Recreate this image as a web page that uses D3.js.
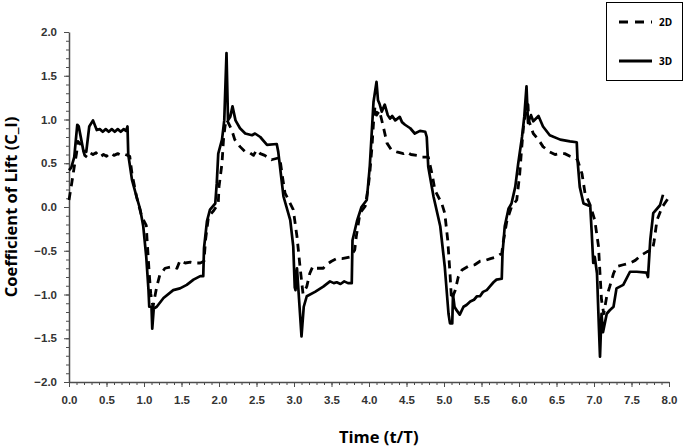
<!DOCTYPE html>
<html>
<head>
<meta charset="utf-8">
<script src="https://cdn.jsdelivr.net/npm/d3@7"></script>
<style>
  body { margin: 0; background: #fff; }
  svg { display: block; font-family: "Open Sans", "Liberation Sans", sans-serif; }
  .axis path, .axis line { stroke: #4d4d4d; }
  .axis text { font-weight: bold; font-size: 11.5px; fill: #333; }
</style>
</head>
<body>
<div id="chart"></div>
<script>
(function(){
  const width = 685, height = 447;
  const margin = { top: 32, right: 16, bottom: 65, left: 69 };

  // 3D series (solid)
  const time3D = [0.00,0.03,0.07,0.11,0.13,0.19,0.23,0.27,0.32,0.37,0.41,0.45,0.49,0.53,0.57,0.61,0.65,0.69,0.73,0.76,0.78,0.79,0.84,0.90,0.95,0.99,1.03,1.06,1.07,1.10,1.11,1.13,1.17,1.26,1.39,1.48,1.57,1.66,1.75,1.79,1.80,1.84,1.88,1.95,1.97,1.99,2.04,2.07,2.10,2.12,2.15,2.18,2.22,2.28,2.35,2.44,2.48,2.55,2.64,2.77,2.79,2.86,2.95,2.99,3.01,3.02,3.04,3.10,3.13,3.17,3.28,3.39,3.48,3.53,3.57,3.62,3.67,3.72,3.77,3.78,3.84,3.90,3.97,4.01,4.06,4.10,4.12,4.14,4.17,4.21,4.25,4.28,4.31,4.35,4.41,4.44,4.48,4.55,4.61,4.68,4.75,4.77,4.79,4.86,4.95,5.01,5.06,5.08,5.11,5.12,5.14,5.16,5.21,5.26,5.30,5.35,5.40,5.44,5.48,5.52,5.57,5.61,5.66,5.70,5.77,5.78,5.81,5.86,5.90,5.95,5.99,6.04,6.07,6.10,6.12,6.16,6.19,6.26,6.32,6.41,6.55,6.68,6.77,6.78,6.81,6.86,6.95,6.97,6.99,7.01,7.04,7.06,7.08,7.10,7.12,7.17,7.21,7.26,7.30,7.39,7.48,7.57,7.70,7.72,7.75,7.79,7.88,7.92];
  const lift3D = [0.42,0.45,0.57,0.94,0.92,0.65,0.63,0.92,0.99,0.88,0.89,0.86,0.89,0.86,0.89,0.86,0.89,0.86,0.89,0.87,0.92,0.60,0.31,0.12,-0.03,-0.22,-0.57,-0.95,-1.14,-1.14,-1.39,-1.16,-1.14,-1.04,-0.95,-0.93,-0.89,-0.83,-0.79,-0.79,-0.47,-0.16,-0.03,0.04,0.27,0.61,0.77,0.99,1.76,0.99,1.03,1.15,0.99,0.90,0.84,0.82,0.84,0.80,0.71,0.72,0.63,0.12,-0.15,-0.45,-0.92,-0.95,-0.70,-1.48,-1.14,-1.02,-0.97,-0.91,-0.85,-0.87,-0.86,-0.88,-0.85,-0.87,-0.87,-0.38,-0.16,0.00,0.08,0.46,1.20,1.43,1.22,1.18,1.09,1.17,1.05,1.01,1.04,0.99,1.03,0.97,0.94,0.90,0.84,0.87,0.86,0.80,0.46,0.12,-0.22,-0.68,-1.22,-1.33,-1.33,-1.00,-1.14,-1.17,-1.23,-1.14,-1.12,-1.08,-1.06,-1.02,-1.02,-0.97,-0.95,-0.91,-0.86,-0.83,-0.82,-0.53,-0.22,-0.02,0.04,0.23,0.50,0.80,1.03,1.38,0.96,1.05,0.98,1.04,0.92,0.82,0.77,0.75,0.74,0.54,0.23,0.04,0.01,-0.30,-0.64,-0.57,-0.76,-1.25,-1.71,-1.22,-1.43,-1.22,-1.18,-1.14,-0.93,-0.89,-0.74,-0.74,-0.75,-0.80,-0.38,-0.07,0.02,0.14];

  // 2D series (dashed)
  const time2D = [0.00,0.04,0.07,0.10,0.12,0.17,0.21,0.24,0.28,0.32,0.36,0.41,0.46,0.50,0.55,0.60,0.65,0.70,0.75,0.81,0.84,0.90,0.97,1.03,1.04,1.07,1.09,1.12,1.17,1.21,1.28,1.39,1.44,1.48,1.55,1.62,1.68,1.75,1.80,1.82,1.86,1.93,1.99,2.00,2.04,2.06,2.08,2.10,2.12,2.17,2.21,2.28,2.35,2.41,2.46,2.50,2.55,2.61,2.70,2.79,2.81,2.84,2.88,2.99,3.04,3.08,3.12,3.17,3.21,3.25,3.28,3.39,3.43,3.50,3.57,3.64,3.75,3.81,3.83,3.88,3.95,3.99,4.01,4.04,4.06,4.08,4.10,4.14,4.19,4.24,4.30,4.37,4.46,4.50,4.56,4.64,4.70,4.79,4.84,4.88,4.97,5.01,5.05,5.08,5.10,5.15,5.19,5.24,5.32,5.41,5.48,5.55,5.62,5.70,5.77,5.79,5.84,5.90,5.97,6.01,6.03,6.06,6.08,6.12,6.13,6.19,6.26,6.32,6.41,6.48,6.55,6.61,6.68,6.75,6.78,6.84,6.88,6.95,7.01,7.06,7.08,7.10,7.13,7.17,7.21,7.26,7.30,7.39,7.48,7.55,7.63,7.71,7.78,7.80,7.84,7.91,7.99];
  const lift2D = [0.08,0.29,0.46,0.61,0.75,0.70,0.59,0.57,0.62,0.60,0.62,0.57,0.60,0.58,0.62,0.59,0.61,0.59,0.60,0.58,0.38,0.12,-0.11,-0.21,-0.36,-0.76,-0.99,-1.14,-0.91,-0.78,-0.70,-0.68,-0.70,-0.61,-0.64,-0.63,-0.64,-0.64,-0.62,-0.38,-0.11,-0.04,0.04,0.23,0.50,0.77,0.92,1.00,0.97,0.88,0.77,0.69,0.63,0.62,0.59,0.65,0.61,0.59,0.54,0.56,0.57,0.38,0.16,-0.03,-0.34,-0.68,-0.99,-0.91,-0.76,-0.68,-0.70,-0.70,-0.66,-0.62,-0.59,-0.59,-0.57,-0.49,-0.34,-0.07,0.01,0.23,0.38,0.69,0.96,1.15,1.05,1.10,0.92,0.73,0.65,0.63,0.61,0.63,0.60,0.59,0.57,0.57,0.38,0.19,0.04,-0.07,-0.38,-0.76,-1.06,-0.95,-0.80,-0.72,-0.68,-0.66,-0.62,-0.61,-0.59,-0.57,-0.53,-0.40,-0.15,0.00,0.08,0.38,0.61,0.92,1.03,1.17,0.99,0.84,0.77,0.69,0.63,0.60,0.61,0.61,0.58,0.56,0.54,0.38,0.16,0.02,-0.15,-0.45,-0.76,-1.06,-1.22,-1.02,-0.91,-0.76,-0.68,-0.66,-0.64,-0.61,-0.55,-0.51,-0.49,-0.40,-0.15,0.00,0.10];

  const xTicks = d3.range(0, 8.01, 0.5);
  const yTicks = d3.range(-2, 2.01, 0.5);
  const legendLabels = ["2D", "3D"];

  const svg = d3.select("#chart").append("svg")
    .attr("width", width).attr("height", height);

  const x = d3.scaleLinear().domain([0, 8]).range([margin.left, width - margin.right]);
  const y = d3.scaleLinear().domain([-2, 2]).range([height - margin.bottom, margin.top]);

  // minor ticks
  svg.append("g").attr("class", "axis")
    .attr("transform", `translate(0,${y(-2)})`)
    .call(d3.axisBottom(x).tickValues(d3.range(0, 8.01, 0.1)).tickSize(3).tickFormat(""))
    .select(".domain").remove();
  svg.append("g").attr("class", "axis")
    .attr("transform", `translate(${x(0)},0)`)
    .call(d3.axisLeft(y).tickValues(d3.range(-2, 2.01, 0.1)).tickSize(3).tickFormat(""))
    .select(".domain").remove();

  // major axes
  svg.append("g").attr("class", "axis")
    .attr("transform", `translate(0,${y(-2)})`)
    .call(d3.axisBottom(x).tickValues(xTicks).tickSize(5).tickSizeOuter(0).tickPadding(9).tickFormat(d3.format(".1f")));
  svg.append("g").attr("class", "axis")
    .attr("transform", `translate(${x(0)},0)`)
    .call(d3.axisLeft(y).tickValues(yTicks).tickSize(5).tickSizeOuter(0).tickPadding(7).tickFormat(d3.format(".1f")));

  svg.selectAll(".axis .domain").attr("stroke-width", 1.5);

  const line = d3.line().x(d => x(d[0])).y(d => y(d[1]));

  svg.append("path")
    .datum(d3.zip(time2D, lift2D))
    .attr("d", line)
    .attr("fill", "none").attr("stroke", "#000")
    .attr("stroke-width", 2.8).attr("stroke-dasharray", "8,6")
    .attr("stroke-linejoin", "round");

  svg.append("path")
    .datum(d3.zip(time3D, lift3D))
    .attr("d", line)
    .attr("fill", "none").attr("stroke", "#000")
    .attr("stroke-width", 2.7)
    .attr("stroke-linejoin", "round");

  // axis titles
  svg.append("text")
    .attr("x", x(4.13)).attr("y", 443)
    .attr("text-anchor", "middle")
    .attr("font-weight", "bold").attr("font-size", 16.5)
    .text("Time (t/T)");
  svg.append("text")
    .attr("transform", `translate(17,${y(0)}) rotate(-90)`)
    .attr("text-anchor", "middle")
    .attr("font-weight", "bold").attr("font-size", 16.5)
    .text("Coefficient of Lift (C_l)");

  // legend
  const legend = svg.append("g");
  legend.append("rect")
    .attr("x", 606.5).attr("y", 2.5).attr("width", 76).attr("height", 78)
    .attr("fill", "#fff").attr("stroke", "#000").attr("stroke-width", 1);
  legendLabels.forEach((lab, i) => {
    const ly = 22 + i * 39;
    legend.append("line")
      .attr("x1", 619).attr("x2", 652).attr("y1", ly).attr("y2", ly)
      .attr("stroke", "#000").attr("stroke-width", 2.8)
      .attr("stroke-dasharray", i === 0 ? "9,7" : null);
    legend.append("text")
      .attr("x", 659).attr("y", ly + 4)
      .attr("font-weight", "bold").attr("font-size", 10)
      .text(lab);
  });
})();
</script>
</body>
</html>
